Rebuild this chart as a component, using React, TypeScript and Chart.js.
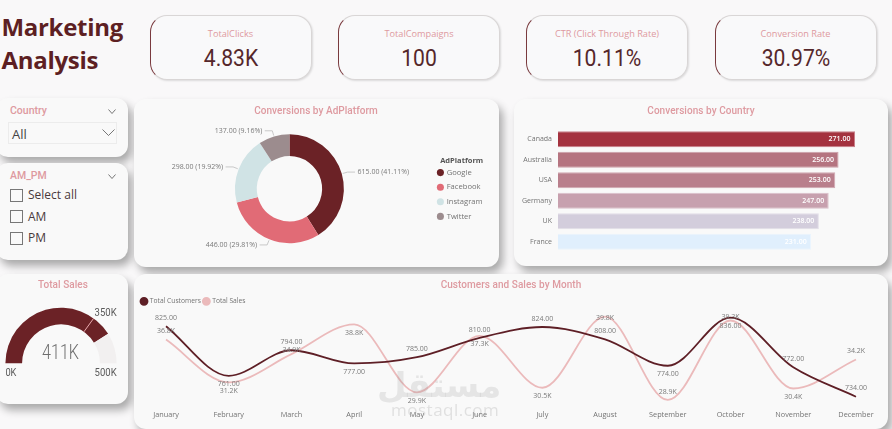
import React, { useEffect, useRef } from "react";
import { Chart, registerables } from "chart.js";

Chart.register(...registerables);

const kpiLabels = ["TotalClicks", "TotalCompaigns", "CTR (Click Through Rate)", "Conversion Rate"];
const kpiValues = ["4.83K", "100", "10.11%", "30.97%"];
const kpiLefts = [149.5, 338, 526, 714.5];

const platforms = ["Google", "Facebook", "Instagram", "Twitter"];
const conversionsByPlatform = [615, 446, 298, 137];
const platformColors = ["#6B2226", "#E16B76", "#D0E3E5", "#9C8C8E"];

const countries = ["Canada", "Australia", "USA", "Germany", "UK", "France"];
const conversionsByCountry = [271, 256, 253, 247, 238, 231];
const countryColors = ["#A4323F", "#B57480", "#B97F8C", "#C7A0AE", "#D3CDDC", "#E0EFFD"];
const countryBorders = ["#C9808A", "#CDA0A9", "#D1A8B1", "#DAC0CA", "#E2DEE8", "#EAF4FD"];

const months = ["January", "February", "March", "April", "May", "June", "July", "August", "September", "October", "November", "December"];
const totalCustomers = [825, 761, 794, 777, 785, 810, 824, 808, 774, 836, 772, 734];
const totalSales = [36.8, 31.2, 34.9, 38.8, 29.9, 37.3, 30.5, 39.8, 28.9, 39.3, 30.4, 34.2];
const customerLabelSide = [-1, 1, -1, 1, -1, -1, -1, -1, 1, 1, -1, -1];
const salesLabelSide = [-1, 1, -0.5, 1, 1, 1, 1, 0.15, -1, -0.4, 1, -1];

const gaugeValue = 411;
const gaugeTarget = 350;
const gaugeMax = 500;
const gaugeText = ["411K", "0K", "350K", "500K"];

const BODY = "'Open Sans', sans-serif";
const DIN = "Roboto, sans-serif";
const PINK = "#DE9AA0";
const GREY = "#737373";

function useChart(make: () => any) {
  const ref = useRef<HTMLCanvasElement | null>(null);
  useEffect(() => {
    if (!ref.current) return;
    const chart = new Chart(ref.current, make());
    return () => chart.destroy();
  }, []);
  return ref;
}

const moveLegend = (dx: number, dy: number) => ({
  id: "moveLegend",
  afterLayout(chart: any) {
    const l = chart.legend;
    l.left += dx;
    l.right += dx;
    l.top += dy;
    l.bottom += dy;
  },
});

const platformLabels = {
  id: "platformLabels",
  afterDatasetsDraw(chart: any) {
    const { ctx } = chart;
    const arcs = chart.getDatasetMeta(0).data;
    const total = conversionsByPlatform.reduce((a, b) => a + b, 0);
    ctx.save();
    ctx.font = `7px ${BODY}`;
    ctx.textBaseline = "middle";
    arcs.forEach((arc: any, i: number) => {
      const mid = (arc.startAngle + arc.endAngle) / 2;
      const c = Math.cos(mid);
      const s = Math.sin(mid);
      const x0 = arc.x + c * (arc.outerRadius + 1);
      const y0 = arc.y + s * (arc.outerRadius + 1);
      const x1 = arc.x + c * (arc.outerRadius + 6);
      const y1 = arc.y + s * (arc.outerRadius + 6);
      const dir = c >= 0 ? 1 : -1;
      const x2 = x1 + dir * 7.5;
      ctx.strokeStyle = "#BDBDBD";
      ctx.lineWidth = 0.8;
      ctx.beginPath();
      ctx.moveTo(x0, y0);
      ctx.lineTo(x1, y1);
      ctx.lineTo(x2, y1);
      ctx.stroke();
      const v = conversionsByPlatform[i];
      ctx.fillStyle = "#7A7A7A";
      ctx.textAlign = dir > 0 ? "left" : "right";
      ctx.fillText(`${v.toFixed(2)} (${((v / total) * 100).toFixed(2)}%)`, x2 + dir * 2.5, y1);
    });
    ctx.restore();
  },
};

const barLabels = {
  id: "barLabels",
  afterDatasetsDraw(chart: any) {
    const { ctx } = chart;
    ctx.save();
    ctx.font = `600 7px ${BODY}`;
    ctx.fillStyle = "#FFFFFF";
    ctx.textAlign = "right";
    ctx.textBaseline = "middle";
    chart.getDatasetMeta(0).data.forEach((bar: any, i: number) => {
      ctx.fillText(conversionsByCountry[i].toFixed(2), bar.x - 4.5, bar.y);
    });
    ctx.restore();
  },
};

const lineLabels = {
  id: "lineLabels",
  afterDatasetsDraw(chart: any) {
    const { ctx } = chart;
    ctx.save();
    ctx.font = `7px ${BODY}`;
    ctx.fillStyle = "#7A7A7A";
    ctx.textAlign = "center";
    ctx.textBaseline = "middle";
    chart.getDatasetMeta(0).data.forEach((p: any, i: number) => {
      ctx.fillText(totalCustomers[i].toFixed(2), p.x, p.y + customerLabelSide[i] * 8.3);
    });
    chart.getDatasetMeta(1).data.forEach((p: any, i: number) => {
      ctx.fillText(`${totalSales[i].toFixed(1)}K`, p.x, p.y + salesLabelSide[i] * 8.3);
    });
    ctx.restore();
  },
};

const gaugeDecor = {
  id: "gaugeDecor",
  afterDatasetsDraw(chart: any) {
    const { ctx } = chart;
    const arc = chart.getDatasetMeta(0).data[0];
    const a = Math.PI + (gaugeTarget / gaugeMax) * Math.PI;
    ctx.save();
    ctx.strokeStyle = "#E9A9AE";
    ctx.lineWidth = 1;
    ctx.beginPath();
    ctx.moveTo(arc.x + Math.cos(a) * arc.innerRadius, arc.y + Math.sin(a) * arc.innerRadius);
    ctx.lineTo(arc.x + Math.cos(a) * arc.outerRadius, arc.y + Math.sin(a) * arc.outerRadius);
    ctx.stroke();
    ctx.textBaseline = "middle";
    ctx.textAlign = "center";
    ctx.fillStyle = "#6E6E6E";
    ctx.font = `300 21px ${DIN}`;
    ctx.fillText(gaugeText[0], arc.x - 0.5, arc.y - 9.5, 37);
    ctx.fillStyle = "#5A5A5A";
    ctx.font = `11px ${DIN}`;
    ctx.textAlign = "left";
    ctx.fillText(gaugeText[1], arc.x - arc.outerRadius, arc.y + 9.5, 11);
    ctx.textAlign = "right";
    ctx.fillText(gaugeText[3], arc.x + arc.outerRadius, arc.y + 9.5, 22);
    ctx.fillText(gaugeText[2], arc.x + arc.outerRadius, arc.y - 50.5, 22);
    ctx.restore();
  },
};

const card = (left: number, top: number, width: number, height: number, radius = 12): React.CSSProperties => ({
  position: "absolute",
  left,
  top,
  width,
  height,
  borderRadius: radius,
  background: "#F9F9F9",
  boxShadow: "4px 6px 8px rgba(0,0,0,0.32)",
});

const abs = (left: number, top: number, extra: React.CSSProperties = {}): React.CSSProperties => ({
  position: "absolute",
  left,
  top,
  whiteSpace: "nowrap",
  ...extra,
});

const titleStyle = (cx: number, top: number): React.CSSProperties =>
  abs(cx, top, { transform: "translateX(-50%)", font: `500 10px ${DIN}`, letterSpacing: 0.05, color: PINK, lineHeight: "12px" });

function Chevron({ x, y, w, h }: { x: number; y: number; w: number; h: number }) {
  return (
    <svg style={{ position: "absolute", left: x, top: y }} width={w} height={h} viewBox={`0 0 ${w} ${h}`}>
      <polyline points={`0.5,0.5 ${w / 2},${h - 0.5} ${w - 0.5},0.5`} fill="none" stroke="#555" strokeWidth="0.8" />
    </svg>
  );
}

export default function App() {
  const doughnutRef = useChart(() => ({
    type: "doughnut",
    data: {
      labels: platforms,
      datasets: [{ data: conversionsByPlatform, backgroundColor: platformColors, borderWidth: 0 }],
    },
    plugins: [platformLabels, moveLegend(87, 2)],
    options: {
      responsive: false,
      animation: false,
      cutout: "60%",
      layout: { padding: { left: 100, right: 92.5, top: 35, bottom: 23.5 } },
      plugins: {
        tooltip: { enabled: false },
        legend: {
          position: "right",
          align: "center",
          title: { display: true, text: "AdPlatform", color: "#555", font: { size: 7.5, weight: "bold", family: BODY }, padding: { top: 2.5, bottom: -4 } },
          labels: { usePointStyle: true, pointStyle: "circle", boxWidth: 5, boxHeight: 5, padding: 7, color: GREY, font: { size: 7.6, family: BODY } },
        },
      },
    },
  }));

  const barRef = useChart(() => ({
    type: "bar",
    data: {
      labels: countries,
      datasets: [
        {
          data: conversionsByCountry,
          backgroundColor: countryColors,
          borderColor: countryBorders,
          borderWidth: 1,
          barPercentage: 1,
          categoryPercentage: 0.777,
        },
      ],
    },
    plugins: [barLabels],
    options: {
      responsive: false,
      animation: false,
      indexAxis: "y",
      layout: { padding: { left: 0, right: 33, top: 30, bottom: 14 } },
      plugins: { legend: { display: false }, tooltip: { enabled: false } },
      scales: {
        x: { display: false, min: 0, max: 271 },
        y: {
          grid: { display: false, drawTicks: false },
          border: { display: false },
          ticks: { color: GREY, padding: 6, font: { size: 7, family: BODY } },
          afterFit: (s: any) => {
            s.width = 44;
          },
        },
      },
    },
  }));

  const lineRef = useChart(() => ({
    type: "line",
    data: {
      labels: months,
      datasets: [
        { label: "Total Customers", data: totalCustomers, yAxisID: "y", borderColor: "#5E1F26", backgroundColor: "#5E1F26", borderWidth: 1.8, pointRadius: 0, cubicInterpolationMode: "monotone" },
        { label: "Total Sales", data: totalSales, yAxisID: "y2", borderColor: "#EBBABB", backgroundColor: "#EBBABB", borderWidth: 1.8, pointRadius: 0, cubicInterpolationMode: "monotone" },
      ],
    },
    plugins: [lineLabels, moveLegend(-3.5, 0)],
    options: {
      responsive: false,
      animation: false,
      layout: { padding: { left: 8, right: 8, top: 21, bottom: 8 } },
      plugins: {
        tooltip: { enabled: false },
        legend: {
          position: "top",
          align: "start",
          labels: { usePointStyle: true, pointStyle: "circle", boxWidth: 5, boxHeight: 5, padding: 3, color: GREY, font: { size: 6.7, family: BODY } },
        },
      },
      scales: {
        x: {
          offset: false,
          grid: { display: false, drawTicks: false },
          border: { display: false },
          ticks: { color: GREY, maxRotation: 0, autoSkip: false, padding: 4, font: { size: 7.3, family: BODY } },
          afterFit: (s: any) => {
            s.height = 14;
          },
        },
        y: {
          position: "left",
          min: 720.7,
          max: 839.9,
          grid: { display: false },
          border: { display: false },
          ticks: { display: false },
          afterFit: (s: any) => {
            s.width = 24;
          },
        },
        y2: {
          position: "right",
          min: 27.98,
          max: 40.06,
          grid: { display: false },
          border: { display: false },
          ticks: { display: false },
          afterFit: (s: any) => {
            s.width = 24;
          },
        },
      },
    },
  }));

  const gaugeRef = useChart(() => ({
    type: "doughnut",
    data: {
      labels: ["Total Sales", "Remaining"],
      datasets: [{ data: [gaugeValue, gaugeMax - gaugeValue], backgroundColor: ["#6B2226", "#F2F0F0"], borderWidth: 0 }],
    },
    plugins: [gaugeDecor],
    options: {
      responsive: false,
      animation: false,
      rotation: -90,
      circumference: 180,
      cutout: "70%",
      layout: { padding: { left: 5, right: 11, top: 33.7, bottom: 40.7 } },
      plugins: { legend: { display: false }, tooltip: { enabled: false } },
    },
  }));

  return (
    <div style={{ position: "absolute", left: 0, top: 0, width: 892, height: 429, overflow: "hidden", background: "#F9F8F9", fontFamily: BODY }}>
      <div style={abs(1.5, 10, { font: `700 24px/33px ${BODY}`, color: "#5D1F23", letterSpacing: -0.3 })}>
        Marketing
        <br />
        Analysis
      </div>

      {kpiLabels.map((label, i) => (
        <div
          key={label}
          style={{
            position: "absolute",
            left: kpiLefts[i],
            top: 15,
            width: 162,
            height: 65,
            boxSizing: "border-box",
            borderRadius: 17,
            border: "1px solid #D9D6D6",
            borderLeft: "1px solid #7A3A3E",
            background: "#F9F9FA",
            boxShadow: "1px 1px 2px rgba(0,0,0,0.12)",
            textAlign: "center",
          }}
        >
          <div style={{ position: "absolute", left: 0, right: 0, top: 12, font: `9.2px/12px ${BODY}`, color: PINK }}>{label}</div>
          <div style={{ position: "absolute", left: 0, right: 0, top: 27, font: `400 24px/30px ${DIN}`, color: "#55272B", transform: "scaleX(0.88)" }}>{kpiValues[i]}</div>
        </div>
      ))}

      <div style={card(-4, 98, 132, 59)} />
      <div style={abs(10, 104, { font: `500 10.5px/14px ${DIN}`, color: PINK })}>Country</div>
      <Chevron x={108} y={109} w={8} h={5} />
      <div style={{ position: "absolute", left: 8, top: 122, width: 109, height: 22, boxSizing: "border-box", border: "1px solid #ECECEC" }} />
      <div style={abs(12, 125, { font: `13px/18px ${BODY}`, color: "#444" })}>All</div>
      <Chevron x={102} y={129} w={13} h={7} />

      <div style={card(-4, 163, 132, 97)} />
      <div style={abs(10, 169, { font: `500 10.5px/14px ${DIN}`, color: PINK })}>AM_PM</div>
      <Chevron x={108} y={174} w={8} h={5} />
      {["Select all", "AM", "PM"].map((t, i) => (
        <React.Fragment key={t}>
          <div style={{ position: "absolute", left: 10, top: [189, 210, 232][i], width: 13, height: 13, boxSizing: "border-box", border: "1px solid #777" }} />
          <div style={abs(28, [186, 208, 229][i], { font: `12px/18px ${BODY}`, color: "#4A3A3C" })}>{t}</div>
        </React.Fragment>
      ))}

      <div style={card(134, 99, 364.5, 167.5, 12)} />
      <div style={card(514, 99, 374, 167, 12)} />
      <div style={card(-4, 274, 132, 130, 12)} />
      <div style={card(134, 274, 754, 155, 12)} />

      <canvas ref={doughnutRef} width={363} height={168} style={abs(135, 99)} />
      <canvas ref={barRef} width={374} height={167} style={abs(514, 99)} />
      <canvas ref={gaugeRef} width={128} height={130} style={abs(0, 274)} />
      <canvas ref={lineRef} width={754} height={155} style={abs(134, 274)} />

      <div style={titleStyle(316, 105)}>Conversions by AdPlatform</div>
      <div style={titleStyle(701, 105)}>Conversions by Country</div>
      <div style={titleStyle(63, 279)}>Total Sales</div>
      <div style={titleStyle(511, 279)}>Customers and Sales by Month</div>

      <div style={abs(377, 365, { font: `700 34px/40px 'DejaVu Sans', sans-serif`, color: "rgba(150,150,150,0.2)", pointerEvents: "none", direction: "rtl" })}>مستقل</div>
      <div style={abs(391, 398, { font: `400 17px/24px ${BODY}`, color: "rgba(150,150,150,0.25)", pointerEvents: "none", letterSpacing: 0.5 })}>mostaql.com</div>
    </div>
  );
}
